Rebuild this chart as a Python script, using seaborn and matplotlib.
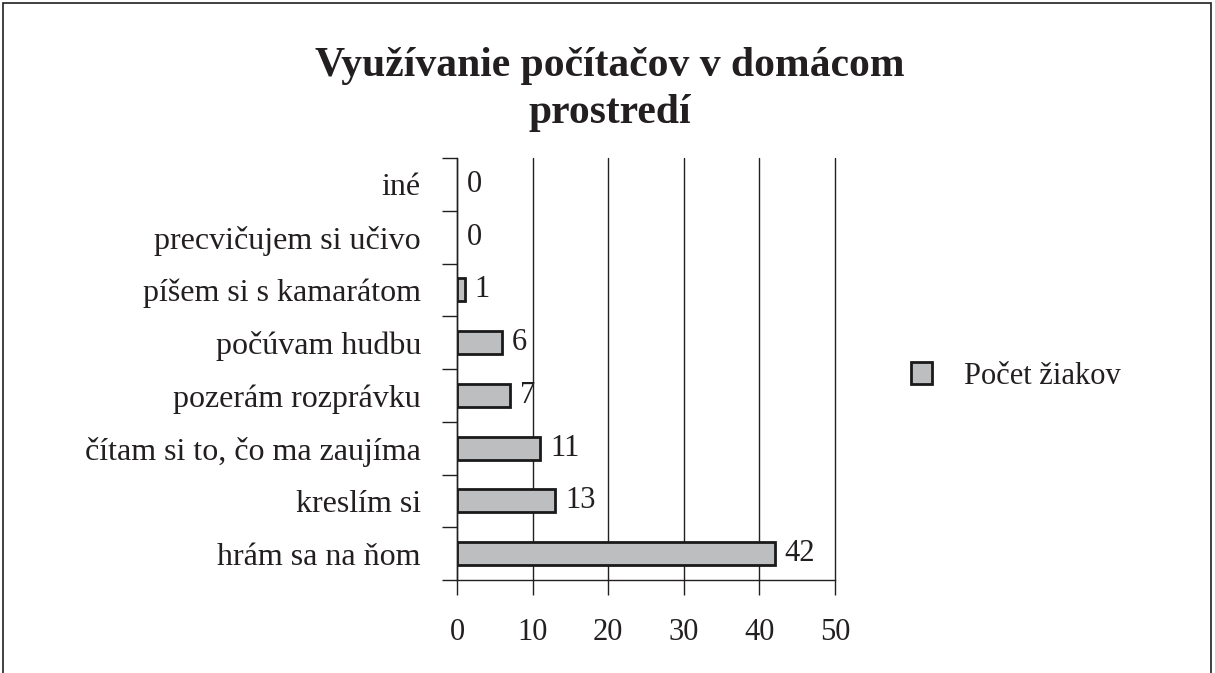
import matplotlib
matplotlib.use('Agg')
import matplotlib.pyplot as plt
import matplotlib.patches as mpatches
import seaborn as sns
import pandas as pd
import numpy as np

categories = ['iné', 'precvičujem si učivo', 'píšem si s kamarátom', 'počúvam hudbu',
              'pozerám rozprávku', 'čítam si to, čo ma zaujíma', 'kreslím si', 'hrám sa na ňom']
counts = [0, 0, 1, 6, 7, 11, 13, 42]
x_ticks = [0, 10, 20, 30, 40, 50]
title = 'Využívanie počítačov v domácom\nprostredí'
series_name = 'Počet žiakov'

data = pd.DataFrame({'Aktivita': categories, series_name: counts})

sns.set_style('white')
plt.rcParams['font.family'] = ['Liberation Serif', 'DejaVu Serif']

bar_color = '#bdbec0'
ink = '#231f20'

fig = plt.figure(figsize=(12.15, 6.73), dpi=100)
ax = fig.add_axes([457 / 1215, 1 - 580 / 673, (835 - 457) / 1215, (580 - 158) / 673])

sns.barplot(data=data, x=series_name, y='Aktivita', orient='h', color=bar_color,
            edgecolor='#1a1a1a', linewidth=2, width=0.44, saturation=1, ax=ax)

# empty bars show no outline
for bar, v in zip(ax.containers[0], counts):
    if v == 0:
        bar.set_linewidth(0)

ax.bar_label(ax.containers[0], padding=7, fontsize=22, color=ink)

ax.set_xlim(0, 50)
ax.set_ylim(7.5, -0.5)
ax.set_xticks(x_ticks)
ax.set_yticks(np.arange(-0.5, 8, 1), minor=True)
ax.set_xlabel('')
ax.set_ylabel('')
ax.grid(axis='x', color=ink, linewidth=1)
for line in ax.get_xgridlines():
    line.set_zorder(0.5)
    line.set_clip_on(False)

for side in ['top', 'right']:
    ax.spines[side].set_visible(False)
for side in ['left', 'bottom']:
    ax.spines[side].set_color(ink)
    ax.spines[side].set_linewidth(1)

ax.tick_params(axis='x', which='major', length=11, width=1, color=ink,
               labelsize=22, labelcolor=ink, pad=16, bottom=True)
ax.tick_params(axis='y', which='major', length=0, labelsize=23, labelcolor=ink, pad=26)
ax.tick_params(axis='y', which='minor', length=11, width=1, color=ink, left=True)

fig.suptitle(title, x=0.502, y=0.93, fontsize=30, fontweight='bold', color=ink,
             linespacing=1.3)

handle = mpatches.Patch(facecolor=bar_color, edgecolor='#1a1a1a', linewidth=2)
ax.legend([handle], [series_name], loc='center left',
          bbox_to_anchor=(883 / 1215, 1 - 376 / 673),
          bbox_transform=fig.transFigure, frameon=False, fontsize=22,
          handlelength=0.7, handleheight=0.7, handletextpad=1.05, labelcolor=ink)

border = mpatches.Rectangle((3 / 1215, -0.1), 1208 / 1215, 1.1 - 3 / 673,
                            transform=fig.transFigure, fill=False,
                            edgecolor=ink, linewidth=1.2, clip_on=False)
fig.patches.append(border)

fig.savefig('out.png', dpi=100)
